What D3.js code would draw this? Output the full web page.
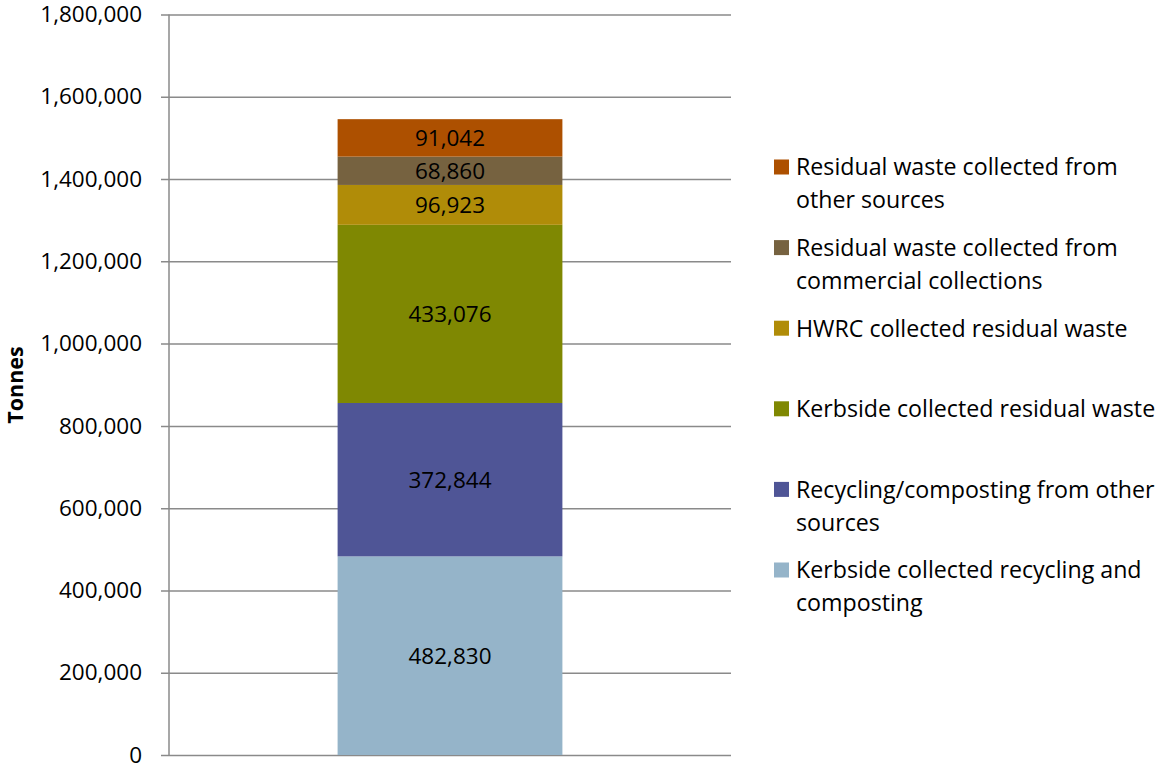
<!DOCTYPE html>
<html>
<head>
<meta charset="utf-8">
<script src="https://cdn.jsdelivr.net/npm/d3@7"></script>
<style>
  html, body { margin: 0; padding: 0; background: #fff; }
  svg { display: block; font-family: "Open Sans", sans-serif; }
</style>
</head>
<body>
<svg id="chart" width="1157" height="765"></svg>
<script>
// Waste arisings by collection stream, stacked bottom to top
const categories = [
  "Kerbside collected recycling and composting",
  "Recycling/composting from other sources",
  "Kerbside collected residual waste",
  "HWRC collected residual waste",
  "Residual waste collected from commercial collections",
  "Residual waste collected from other sources"
];
const values = [482830, 372844, 433076, 96923, 68860, 91042];
const colors = ["#95B4C9", "#4F5596", "#7F8802", "#B08C08", "#766240", "#AD5000"];
const yTicks = [0, 200000, 400000, 600000, 800000, 1000000, 1200000, 1400000, 1600000, 1800000];
// Legend lines (wrapped), listed top to bottom
const legendLines = [
  ["Residual waste collected from", "other sources"],
  ["Residual waste collected from", "commercial collections"],
  ["HWRC collected residual waste"],
  ["Kerbside collected residual waste"],
  ["Recycling/composting from other", "sources"],
  ["Kerbside collected recycling and", "composting"]
];

const svg = d3.select("#chart");
const plot = { left: 169, right: 731, top: 14.5, bottom: 755 };

const y = d3.scaleLinear().domain([0, 1800000]).range([plot.bottom, plot.top]);
const x = d3.scaleBand().domain(["total"]).range([plot.left, plot.right]).paddingInner(0.6).paddingOuter(0.3);

// Gridlines and tick labels
const yAxis = d3.axisLeft(y)
  .tickValues(yTicks)
  .tickFormat(d3.format(","))
  .tickSize(-(plot.right - plot.left))
  .tickPadding(27);

const axisG = svg.append("g")
  .attr("transform", `translate(${plot.left},0)`)
  .call(yAxis);
axisG.select(".domain").remove();
axisG.selectAll(".tick line")
  .attr("x1", -8)
  .attr("stroke", "#8a8a8a")
  .attr("stroke-width", 1.5);
axisG.selectAll(".tick text")
  .attr("font-size", 22.5)
  .attr("fill", "#000")
  .attr("font-family", "Open Sans, sans-serif");

// Vertical axis line
svg.append("line")
  .attr("x1", plot.left).attr("x2", plot.left)
  .attr("y1", plot.top).attr("y2", plot.bottom)
  .attr("stroke", "#8a8a8a").attr("stroke-width", 1.5);

// Stacked segments
let acc = 0;
const segs = values.map((v, i) => {
  const s = { i, v, y0: acc, y1: acc + v };
  acc += v;
  return s;
});

const bx = x("total");
const bw = x.bandwidth();

svg.append("g").selectAll("rect")
  .data(segs)
  .join("rect")
  .attr("x", bx)
  .attr("width", bw)
  .attr("y", d => y(d.y1))
  .attr("height", d => y(d.y0) - y(d.y1))
  .attr("fill", d => colors[d.i]);

svg.append("g").selectAll("text")
  .data(segs)
  .join("text")
  .attr("x", bx + bw / 2)
  .attr("y", d => (y(d.y0) + y(d.y1)) / 2)
  .attr("dy", "0.36em")
  .attr("text-anchor", "middle")
  .attr("font-size", 22.5)
  .attr("fill", "#000")
  .text(d => d3.format(",")(d.v));

// Y axis title
svg.append("text")
  .attr("transform", "translate(23,385) rotate(-90)")
  .attr("text-anchor", "middle")
  .attr("font-size", 21.5)
  .attr("font-weight", "bold")
  .text("Tonnes");

// Legend (top entry is the top of the stack)
const legend = svg.append("g");
[5, 4, 3, 2, 1, 0].forEach((idx, k) => {
  const cy = 167 + k * 80.6;
  legend.append("rect")
    .attr("x", 774).attr("y", cy - 7.5)
    .attr("width", 15).attr("height", 15)
    .attr("fill", colors[idx]);
  legendLines[k].forEach((line, j) => {
    legend.append("text")
      .attr("x", 796)
      .attr("y", cy + j * 33)
      .attr("dy", "0.36em")
      .attr("font-size", 23.2)
      .attr("fill", "#000")
      .text(line);
  });
});
</script>
</body>
</html>
